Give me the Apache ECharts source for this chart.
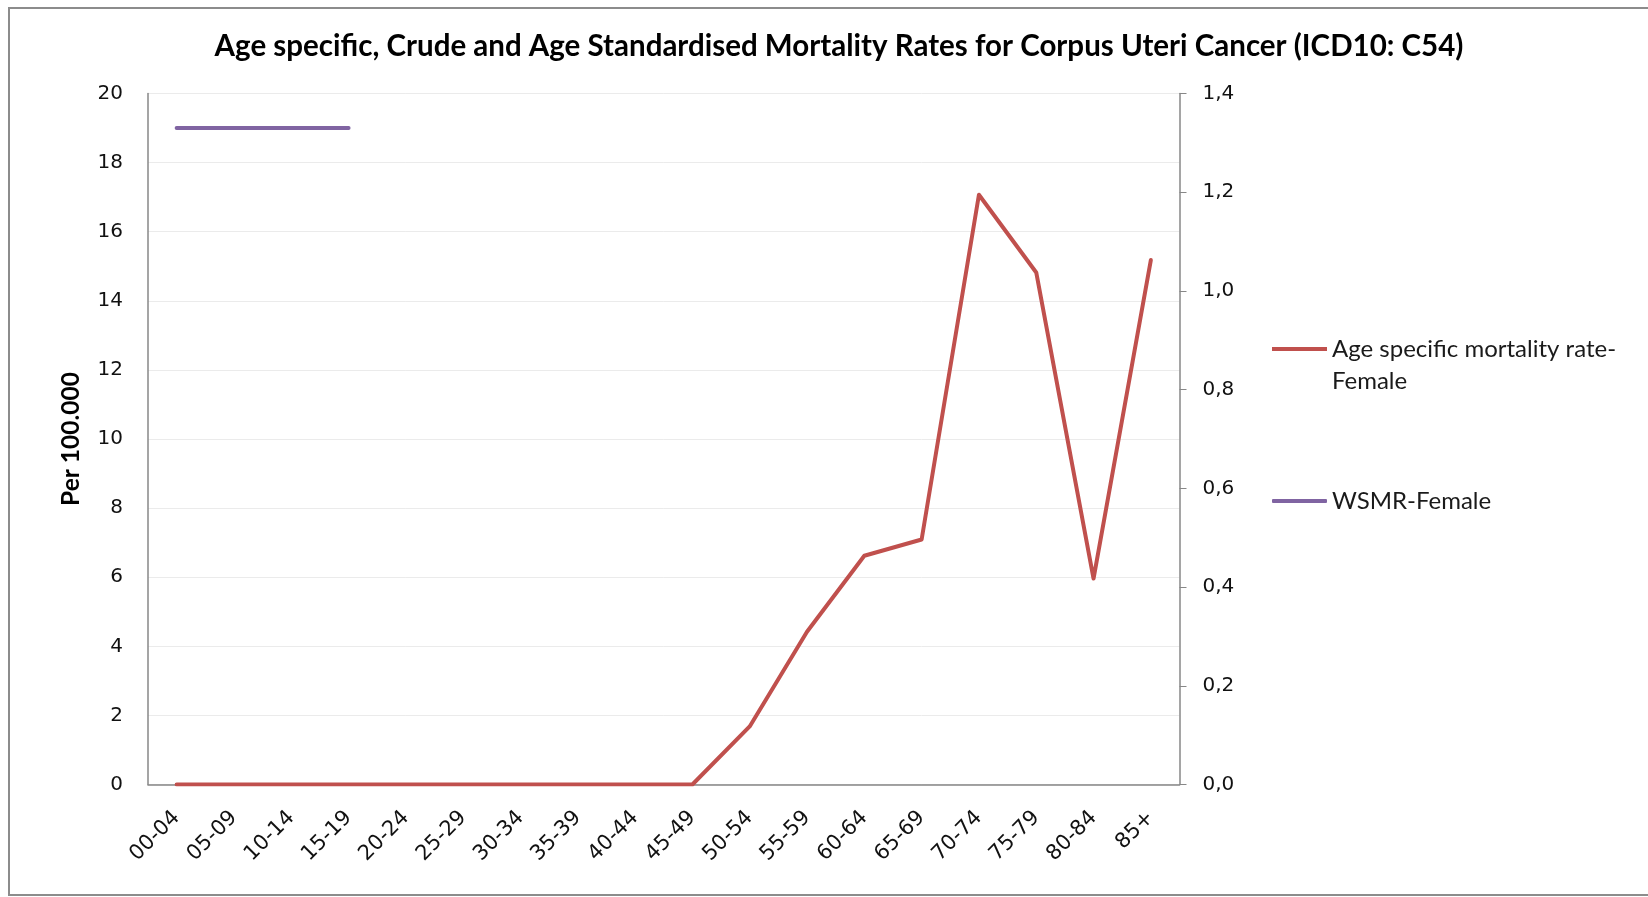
<!DOCTYPE html>
<html>
<head>
<meta charset="utf-8">
<script src="https://cdn.jsdelivr.net/npm/echarts@6/dist/echarts.min.js"></script>
<style>
html,body{margin:0;padding:0;background:#fff;}
#chart{width:1648px;height:897px;}
</style>
</head>
<body>
<div id="chart"></div>
<script>
const categories = ['00-04','05-09','10-14','15-19','20-24','25-29','30-34','35-39','40-44','45-49','50-54','55-59','60-64','65-69','70-74','75-79','80-84','85+'];
const ageSpecific = [0,0,0,0,0,0,0,0,0,0,1.68,4.42,6.62,7.09,17.07,14.82,5.96,15.18];
const wsmr = [1.33,1.33,1.33,1.33,null,null,null,null,null,null,null,null,null,null,null,null,null,null];
const leftTicks = {min:0, max:20, interval:2};
const rightTicks = {min:0, max:1.4, interval:0.2};
const titleText = 'Age specific, Crude and Age Standardised Mortality Rates for Corpus Uteri Cancer (ICD10: C54)';
const name1 = 'Age specific mortality rate-\nFemale';
const name2 = 'WSMR-Female';

const chart = echarts.init(document.getElementById('chart'));
const axisFont = {fontFamily:'DejaVu Sans', fontSize:20, color:'#111'};
const legendText = {fontFamily:'Lato', fontSize:24, color:'#1a1a1a', lineHeight:32};
chart.setOption({
  animation:false,
  backgroundColor:'#fff',
  title:{text:titleText, left:834, textAlign:'center', top:26,
    textStyle:{fontFamily:'Lato', fontWeight:'bold', fontSize:29.5, color:'#000'}},
  graphic:[{type:'rect', shape:{x:9,y:8,width:1660,height:887}, style:{fill:'none', stroke:'#8c8c8c', lineWidth:2}, silent:true}],
  grid:{left:148, top:93.5, width:1031.5, height:691, containLabel:false},
  legend:[
    {data:[name1], left:1267, top:328, orient:'vertical', itemWidth:55, itemHeight:64, itemGap:0,
     symbolKeepAspect:false,
     icon:'path://M0,14 L55,14 L55,18 L0,18 Z M0,0 M55,64', textStyle:legendText, selectedMode:false},
    {data:[name2], left:1267, top:480, orient:'vertical', itemWidth:55, itemHeight:4,
     icon:'roundRect', textStyle:legendText, selectedMode:false}
  ],
  xAxis:{type:'category', data:categories, boundaryGap:true,
    axisLine:{lineStyle:{color:'#878787', width:1.5}},
    axisTick:{show:false},
    axisLabel:Object.assign({rotate:45, interval:0, margin:30}, axisFont, {fontSize:21})},
  yAxis:[
    {type:'value', min:leftTicks.min, max:leftTicks.max, interval:leftTicks.interval,
     name:'Per 100.000', nameLocation:'middle', nameGap:64, nameRotate:90,
     nameTextStyle:{fontFamily:'Lato', fontWeight:'bold', fontSize:24.5, color:'#000'},
     axisLine:{show:true, lineStyle:{color:'#878787', width:1.5}},
     axisTick:{show:false},
     splitLine:{lineStyle:{color:'#ebebeb', width:1}},
     axisLabel:Object.assign({margin:25}, axisFont)},
    {type:'value', position:'right', min:rightTicks.min, max:rightTicks.max, interval:rightTicks.interval,
     axisLine:{show:true, lineStyle:{color:'#878787', width:1.5}},
     axisTick:{show:true, length:7, inside:false, lineStyle:{color:'#878787'}},
     splitLine:{show:false},
     axisLabel:Object.assign({margin:23, formatter:v=>v.toFixed(1).replace('.',',')}, axisFont)}
  ],
  series:[
    {name:name1, type:'line', yAxisIndex:0, data:ageSpecific, showSymbol:false, symbol:'none',
     lineStyle:{color:'#c0504d', width:4, cap:'round', join:'round'}, itemStyle:{color:'#c0504d'}},
    {name:name2, type:'line', yAxisIndex:1, data:wsmr, showSymbol:false, symbol:'none', connectNulls:false,
     lineStyle:{color:'#8064a2', width:4, cap:'round', join:'round'}, itemStyle:{color:'#8064a2'}}
  ]
});
</script>
</body>
</html>
